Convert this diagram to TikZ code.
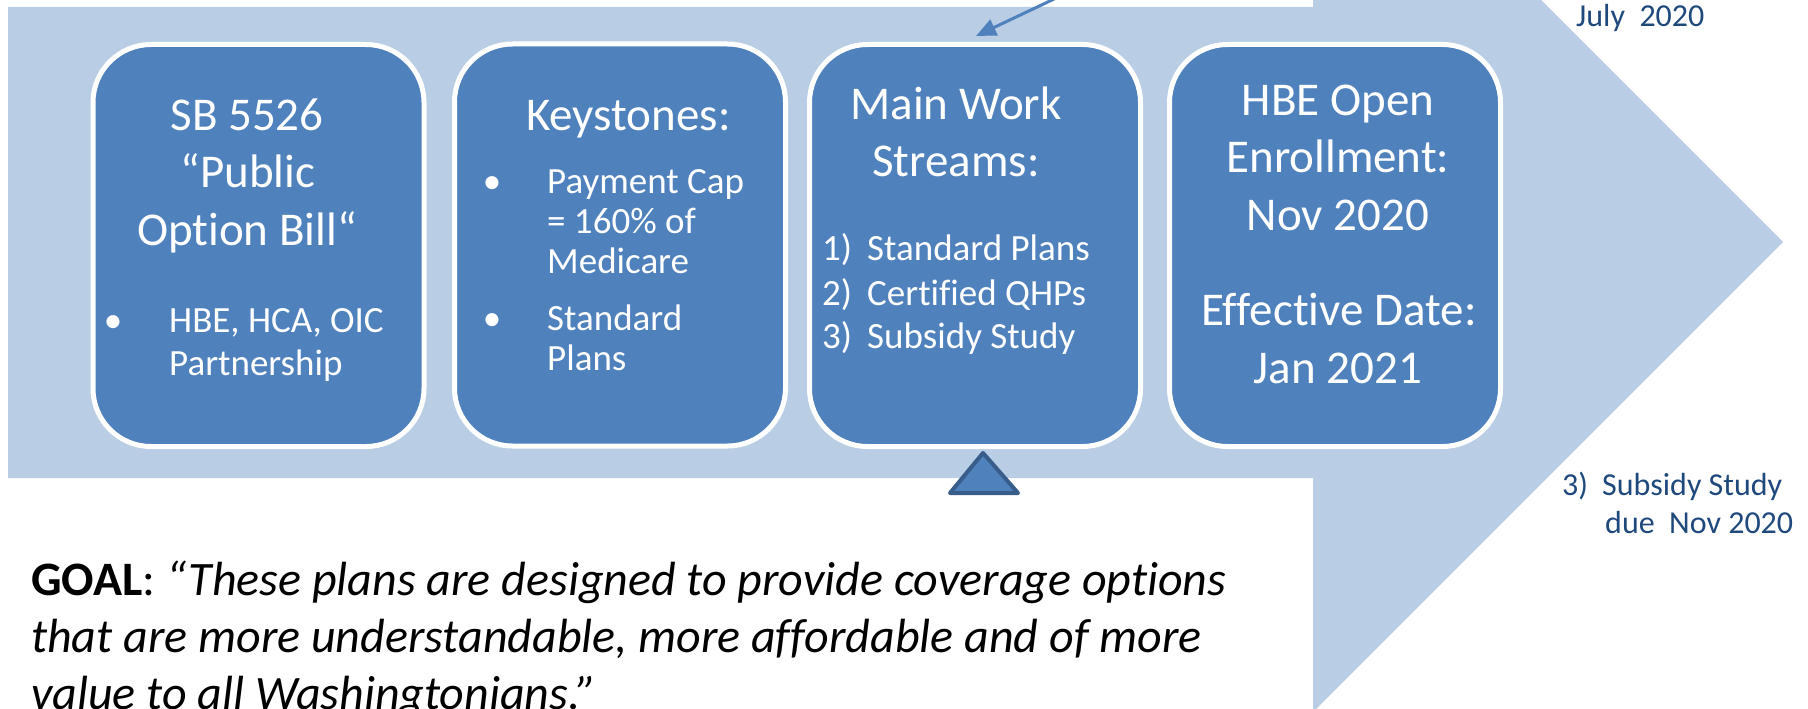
\documentclass[tikz,border=0pt]{standalone}
\usepackage{fontspec}
\setmainfont{Carlito}[Ligatures=NoCommon]
\usetikzlibrary{arrows.meta}
\definecolor{lightarrow}{HTML}{B9CDE5}
\definecolor{boxblue}{HTML}{4F81BD}
\definecolor{tristroke}{HTML}{385D8A}
\definecolor{darktext}{HTML}{1F497D}
\begin{document}
\begin{tikzpicture}[x=1pt,y=-1pt,
  stagebox/.style={draw=white, line width=5pt, fill=boxblue, rounded corners=58pt,
    minimum width=331pt, minimum height=402pt, inner sep=0pt},
  wt/.style={text=white, inner sep=0pt, anchor=base},
  wtl/.style={wt, anchor=base west},
  titlef/.style={font=\fontsize{47}{56}\selectfont},
  bodyf/.style={font=\fontsize{37}{44}\selectfont},
  sidet/.style={text=darktext, inner sep=0pt, anchor=base west, font=\fontsize{32}{38}\selectfont},
  goalt/.style={text=black, inner sep=0pt, anchor=base west, font=\fontsize{48}{57}\selectfont},
  bul/.style={wt, bodyf}
]
\useasboundingbox (0,0) rectangle (1808,709);
\clip (0,0) rectangle (1808,709);
% big light arrow
\fill[lightarrow] (8,7) -- (1313,7) -- (1313,-228) -- (1783,242) -- (1313,712) -- (1313,478) -- (8,478) -- cycle;
% stage boxes
\node[stagebox] (b1) at (258.5,245.5) {};
\node[stagebox] (b2) at (620,245) {};
\node[stagebox] (b3) at (975,245.5) {};
\node[stagebox] (b4) at (1335,245.5) {};
% box 1
\node[wt,titlef] (b1t1) at (247,130) {SB 5526};
\node[wt,titlef] (b1t2) at (248,187) {“Public};
\node[wt,titlef] (b1t3) at (247,245) {Option Bill“};
\node[bul] (b1d1) at (113,332) {•};
\node[wtl,bodyf] (b1l1) at (169,332) {HBE, HCA, OIC};
\node[wtl,bodyf] (b1l2) at (169,375) {Partnership};
% box 2
\node[wt,titlef] (b2t1) at (628.5,130) {Keystones:};
\node[bul] (b2d1) at (492,193) {•};
\node[wtl,bodyf] (b2l1) at (547,193) {Payment Cap};
\node[wtl,bodyf] (b2l2) at (547,233) {= 160\% of};
\node[wtl,bodyf] (b2l3) at (547,273) {Medicare};
\node[bul] (b2d2) at (492,330) {•};
\node[wtl,bodyf] (b2l4) at (547,330) {Standard};
\node[wtl,bodyf] (b2l5) at (547,370) {Plans};
% box 3
\node[wt,titlef] (b3t1) at (956,119) {Main Work};
\node[wt,titlef] (b3t2) at (956,176) {Streams:};
\node[wtl,bodyf] (b3n1) at (822,260) {1)};
\node[wtl,bodyf] (b3l1) at (867,260) {Standard Plans};
\node[wtl,bodyf] (b3n2) at (822,305) {2)};
\node[wtl,bodyf] (b3l2) at (867,305) {Certified QHPs};
\node[wtl,bodyf] (b3n3) at (822,348) {3)};
\node[wtl,bodyf] (b3l3) at (867,348) {Subsidy Study};
% box 4
\node[wt,titlef] (b4t1) at (1338,115) {HBE Open};
\node[wt,titlef] (b4t2) at (1338,172) {Enrollment:};
\node[wt,titlef] (b4t3) at (1338,230) {Nov 2020};
\node[wt,titlef] (b4t4) at (1339,325) {Effective Date:};
\node[wt,titlef] (b4t5) at (1338,383) {Jan 2021};
% triangle marker
\draw[tristroke, line width=4pt, line join=round, fill=boxblue] (983,453) -- (1018,493) -- (950,493) -- cycle;
% top pointer arrow
\coordinate (arrstart) at (1090,-18);
\coordinate (arrend) at (976,36);
\draw[boxblue, line width=3pt, -{Triangle[length=20pt,width=17pt]}] (arrstart) -- (arrend);
% side notes
\node[sidet] (july) at (1576,27) {July\ \ 2020};
\node[sidet] (sn3) at (1562,495) {3)};
\node[sidet] (sns) at (1602,495) {Subsidy Study};
\node[sidet] (snd) at (1605,533) {due\ \ Nov 2020};
% goal
\node[goalt] (g1) at (31,595) {\textbf{GOAL}: \textit{“These plans are designed to provide coverage options}};
\node[goalt] (g2) at (31,652) {\textit{that are more understandable, more affordable and of more}};
\node[goalt] (g3) at (31,709) {\textit{value to all Washingtonians.”}};
\end{tikzpicture}
\end{document}
